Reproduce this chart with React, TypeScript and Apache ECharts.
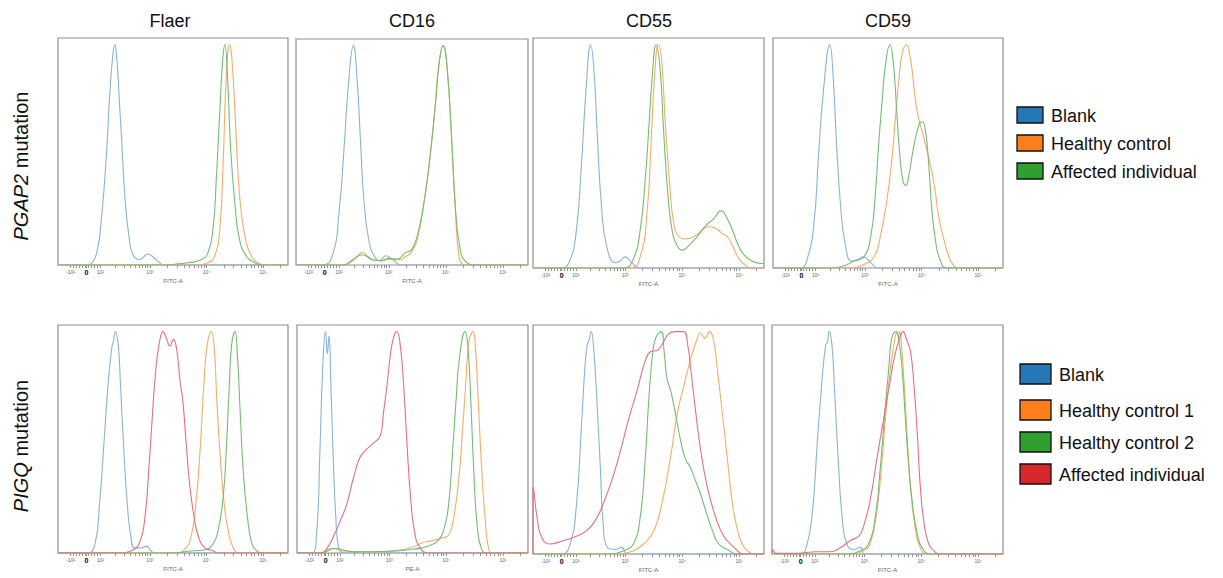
import React, { useEffect, useRef } from "react";
import * as echarts from "echarts";

// ---------- axis / labels ----------
const XMIN = 1.378;
const XMAX = 5.434;
const YMAX = 103;

const COLUMN_TITLES = ["Flaer", "CD16", "CD55", "CD59"];
const ROW_LABELS = [
  ["PGAP2", " mutation"],
  ["PIGQ", " mutation"],
];
const AXIS_NAMES = ["FITC-A", "FITC-A", "FITC-A", "FITC-A", "FITC-A", "PE-A", "FITC-A", "FITC-A"];
const TICK_POS = [1.6, 1.88, 2.13, 3, 4, 5];
const TICK_LABELS = ["-10²", "0", "10²", "10³", "10⁴", "10⁵"];
const LEGEND_ROW1 = ["Blank", "Healthy control", "Affected individual"];
const LEGEND_ROW2 = ["Blank", "Healthy control 1", "Healthy control 2", "Affected individual"];

// ---------- data: [log fluorescence position, % of max] ----------
// Row 1: PGAP2 mutation
const F1_BLANK = [[1.86,0],[1.98,1],[2.08,8],[2.14,20],[2.2,38],[2.25,58],[2.29,77],[2.34,94],[2.38,100],[2.41,95],[2.44,84],[2.47,70],[2.5,57],[2.54,38],[2.58,24],[2.63,13],[2.67,7],[2.73,3.5],[2.82,2.4],[2.9,4],[2.97,5],[3.04,4],[3.1,2.5],[3.18,0.8],[3.24,0]];
const F1_HEALTHY = [[3.79,0],[4.02,1],[4.14,4],[4.23,16],[4.29,46],[4.33,77],[4.37,95],[4.4,100],[4.44,95],[4.5,69],[4.55,43],[4.61,24],[4.7,10],[4.79,4],[4.9,1],[5.02,0]];
const F1_AFFECTED = [[3.26,0],[3.5,0.5],[3.67,1],[3.9,2.4],[4.02,5.4],[4.11,16],[4.17,39],[4.23,69],[4.28,92],[4.32,100],[4.37,84],[4.42,54],[4.5,27],[4.58,11.5],[4.7,4],[4.85,1],[4.97,0]];

const C1_BLANK = [[1.84,0],[2.01,4],[2.13,24],[2.22,54],[2.3,84],[2.38,100],[2.45,83],[2.51,54],[2.57,28],[2.66,10],[2.75,4],[2.84,2],[2.95,4.2],[3.07,2.4],[3.22,0]];
const C1_HEALTHY = [[2.2,0],[2.35,1.5],[2.45,4],[2.54,5.7],[2.63,4],[2.72,2.4],[2.87,2],[3.02,2.7],[3.19,2.4],[3.3,4],[3.4,6],[3.51,13],[3.63,31],[3.72,49],[3.81,72],[3.88,92],[3.95,100],[4.02,90],[4.1,57],[4.16,27],[4.22,5.4],[4.28,0.5],[4.35,0]];
const C1_AFFECTED = [[2.19,0],[2.37,2.4],[2.54,4.7],[2.72,2.4],[2.87,2],[3.01,3],[3.16,2.7],[3.28,5.4],[3.4,7],[3.51,14.5],[3.63,31],[3.72,49],[3.81,72],[3.88,92],[3.95,100],[4.02,90],[4.1,57],[4.16,28],[4.24,8.5],[4.34,1.7],[4.54,0]];

const D1_BLANK = [[1.88,0],[2.02,3],[2.14,17],[2.23,47],[2.31,80],[2.39,100],[2.45,88],[2.51,58],[2.58,28],[2.67,10],[2.82,2.4],[2.9,3],[3.0,5],[3.11,2.4],[3.26,0]];
const D1_HEALTHY = [[3.08,0],[3.26,5],[3.38,25],[3.45,55],[3.51,85],[3.58,100],[3.64,92],[3.7,65],[3.78,37],[3.85,20],[3.94,14],[4.05,13],[4.2,14],[4.35,17],[4.47,18.5],[4.57,18],[4.7,15.5],[4.79,14],[4.88,10],[5.0,4],[5.14,0.6],[5.2,0]];
const D1_AFFECTED = [[2.97,0],[3.14,4],[3.26,17],[3.35,40],[3.41,62],[3.47,85],[3.54,100],[3.61,89],[3.67,62],[3.74,35],[3.82,17],[3.91,10],[4.0,8],[4.11,10],[4.26,14],[4.41,19],[4.55,22],[4.68,25.6],[4.79,22],[4.88,17],[4.97,11],[5.08,6],[5.23,3],[5.38,2],[5.434,2]];

const E1_BLANK = [[1.86,0],[1.98,4],[2.1,20],[2.18,50],[2.27,80],[2.38,100],[2.44,85],[2.5,55],[2.57,28],[2.65,11],[2.77,3],[2.89,4],[2.98,5],[3.1,2.4],[3.24,0]];
const E1_HEALTHY = [[2.74,0],[2.98,1.6],[3.16,5],[3.27,14],[3.39,31],[3.48,50],[3.54,68],[3.6,85],[3.66,96.6],[3.73,100],[3.8,94],[3.86,82],[3.92,70],[4.01,61],[4.1,52],[4.18,43],[4.24,34],[4.3,23],[4.39,13],[4.48,5],[4.57,1],[4.66,0]];
const E1_AFFECTED = [[2.39,0],[2.63,1],[2.8,3],[2.98,5],[3.1,14],[3.18,32],[3.24,55],[3.3,74],[3.36,90.6],[3.44,100],[3.5,92],[3.56,70],[3.61,52],[3.67,39],[3.72,37],[3.77,41],[3.85,53],[3.95,64],[4.01,65.5],[4.07,61],[4.13,44],[4.18,26],[4.24,13],[4.32,4],[4.45,0]];

// Row 2: PIGQ mutation
const F2_BLANK = [[1.9,0],[2.03,4],[2.11,22],[2.2,54],[2.27,79],[2.33,93.5],[2.35,95],[2.39,100],[2.44,94],[2.48,76],[2.54,46],[2.6,22],[2.66,8],[2.73,2.3],[2.85,2.3],[2.94,3],[3.02,1],[3.08,0]];
const F2_HEALTHY1 = [[3.44,0],[3.61,1.5],[3.73,8],[3.82,25],[3.89,49],[3.95,76],[4.01,94],[4.08,100],[4.13,94],[4.18,68.6],[4.24,43],[4.31,22],[4.38,10],[4.47,2.3],[4.58,0]];
const F2_HEALTHY2 = [[3.38,0],[3.67,0.8],[3.97,1.5],[4.11,4],[4.2,10],[4.29,25],[4.35,49],[4.4,76],[4.44,94],[4.5,100],[4.54,90],[4.59,64],[4.65,35],[4.72,16],[4.79,5],[4.88,1],[4.97,0]];
const F2_AFFECTED = [[2.44,0],[2.67,1],[2.82,5],[2.91,16],[2.98,38],[3.04,61],[3.1,82],[3.16,94],[3.23,100],[3.29,97],[3.35,93.5],[3.41,96.5],[3.47,92],[3.53,77.7],[3.58,68.6],[3.64,49],[3.7,31],[3.78,16],[3.86,7],[3.97,2.3],[4.11,1],[4.2,0]];

const C2_BLANK = [[1.63,0],[1.72,8],[1.78,46],[1.83,84],[1.88,100],[1.91,90],[1.94,98],[1.97,79],[2.01,46],[2.06,16],[2.11,2.3],[2.22,0]];
const C2_HEALTHY1 = [[1.8,0],[1.98,2],[2.22,0.8],[2.69,0.5],[3.16,1.2],[3.4,2.6],[3.57,4.5],[3.75,5.6],[3.93,6.8],[4.04,8],[4.13,16],[4.22,34],[4.28,53.5],[4.34,76],[4.4,96],[4.47,100],[4.51,93],[4.56,68.6],[4.62,38.5],[4.68,16],[4.74,2.3],[4.81,0]];
const C2_HEALTHY2 = [[1.8,0],[2.04,2],[2.4,0.5],[2.98,0.8],[3.34,1.5],[3.57,2.3],[3.75,3.8],[3.87,6],[3.95,10],[4.04,22],[4.11,46],[4.17,68.6],[4.23,88],[4.33,100],[4.38,93],[4.43,68.6],[4.48,38.5],[4.54,13],[4.62,1.5],[4.72,0]];
const C2_AFFECTED = [[1.8,0],[1.9,2],[2.01,7],[2.13,14],[2.25,22],[2.37,34],[2.48,43],[2.57,46],[2.69,49],[2.84,53],[2.9,64],[2.96,76],[3.01,88],[3.07,97],[3.13,100],[3.19,94],[3.25,76],[3.31,49],[3.37,26],[3.44,10],[3.54,2.3],[3.69,0]];

const D2_BLANK = [[1.88,0],[2.03,4.5],[2.14,22],[2.23,58],[2.29,84],[2.33,94],[2.36,96],[2.4,100],[2.45,90],[2.5,69],[2.56,39],[2.61,13.5],[2.68,3],[2.82,2],[2.94,3],[3.03,0]];
const D2_HEALTHY1 = [[2.91,0],[3.14,1.5],[3.32,4.5],[3.5,10.5],[3.64,22.5],[3.79,43],[3.91,63],[4.03,76],[4.14,87],[4.25,96],[4.32,99.5],[4.39,97],[4.48,100],[4.55,96],[4.61,84],[4.7,64],[4.79,43],[4.88,22.5],[4.97,10.5],[5.05,4.5],[5.14,1.5],[5.26,0]];
const D2_HEALTHY2 = [[2.73,0],[2.97,1.5],[3.14,4.5],[3.26,16.5],[3.35,43],[3.41,69],[3.47,88],[3.53,97],[3.63,100],[3.68,91],[3.73,79],[3.8,73],[3.88,63],[3.97,51],[4.05,43],[4.14,39],[4.23,33],[4.32,27],[4.41,19.5],[4.53,10.5],[4.64,4.5],[4.79,2],[4.97,0]];
const D2_AFFECTED = [[1.378,0],[1.379,30],[1.39,29],[1.45,16.5],[1.53,7.5],[1.67,4.5],[1.91,6],[2.14,8],[2.32,10.5],[2.47,15],[2.61,22.5],[2.76,33],[2.91,46],[3.05,60],[3.2,73],[3.35,87],[3.44,91],[3.56,91.6],[3.64,94],[3.76,99],[3.88,100],[4.02,100],[4.1,93],[4.14,85],[4.23,65],[4.32,47],[4.44,30],[4.58,17],[4.73,8],[4.91,3],[5.08,0]];

const E2_BLANK = [[1.87,0],[1.98,3],[2.09,19.5],[2.17,49],[2.25,76],[2.32,94],[2.35,95],[2.38,100],[2.43,94],[2.48,72],[2.54,43],[2.61,16.5],[2.69,4.5],[2.81,2],[2.93,3],[3.01,0]];
const E2_HEALTHY1 = [[2.75,0],[2.98,1.5],[3.1,4.5],[3.22,19.5],[3.31,42],[3.38,64],[3.46,84],[3.53,96],[3.57,99.5],[3.6,97.5],[3.62,100],[3.66,91],[3.7,76],[3.76,49],[3.82,27],[3.9,10.5],[3.98,3],[4.1,0]];
const E2_HEALTHY2 = [[2.69,0],[2.93,1.5],[3.07,4.5],[3.19,16.5],[3.28,39],[3.35,61],[3.43,84],[3.48,97],[3.56,100],[3.6,97],[3.66,84],[3.72,61],[3.78,39],[3.86,19.5],[3.93,9],[4.01,3],[4.16,0]];
const E2_AFFECTED = [[1.378,0],[1.39,2],[1.45,0.3],[1.81,0.3],[2.16,1],[2.4,1],[2.57,2.7],[2.75,6],[2.9,8],[2.98,12],[3.1,24],[3.22,43],[3.34,61],[3.46,79],[3.54,90],[3.62,97],[3.68,100],[3.74,96.5],[3.81,91],[3.87,76],[3.93,54],[3.98,31],[4.05,13.5],[4.13,4.5],[4.22,1.5],[4.31,0]];

// ---------- styling ----------
const LINE_COLORS = { blank: "#86b4da", h1: "#f8ac66", h2: "#72be72", aff: "#e76f80" };
const LEGEND_COLORS = { blank: "#2577b5", h1: "#fd7f1c", h2: "#2fa02f", aff: "#d6282b" };
const FONT = "'Liberation Sans', Arial, Helvetica, sans-serif";

const GRIDS = [
  { left: 58, top: 38, width: 230, height: 227 },
  { left: 296, top: 39, width: 232, height: 226 },
  { left: 533, top: 38, width: 231, height: 230 },
  { left: 773, top: 38, width: 230, height: 230 },
  { left: 58, top: 325, width: 230, height: 228 },
  { left: 297, top: 325, width: 231, height: 228 },
  { left: 533, top: 325, width: 231, height: 229 },
  { left: 772, top: 325, width: 231, height: 229 },
];

const PANELS = [
  [["Blank", F1_BLANK, "blank"], ["Healthy control", F1_HEALTHY, "h1"], ["Affected individual", F1_AFFECTED, "h2"]],
  [["Blank", C1_BLANK, "blank"], ["Healthy control", C1_HEALTHY, "h1"], ["Affected individual", C1_AFFECTED, "h2"]],
  [["Blank", D1_BLANK, "blank"], ["Healthy control", D1_HEALTHY, "h1"], ["Affected individual", D1_AFFECTED, "h2"]],
  [["Blank", E1_BLANK, "blank"], ["Healthy control", E1_HEALTHY, "h1"], ["Affected individual", E1_AFFECTED, "h2"]],
  [["Blank", F2_BLANK, "blank"], ["Healthy control 1", F2_HEALTHY1, "h1"], ["Healthy control 2", F2_HEALTHY2, "h2"], ["Affected individual", F2_AFFECTED, "aff"]],
  [["Blank", C2_BLANK, "blank"], ["Healthy control 1", C2_HEALTHY1, "h1"], ["Healthy control 2", C2_HEALTHY2, "h2"], ["Affected individual", C2_AFFECTED, "aff"]],
  [["Blank", D2_BLANK, "blank"], ["Healthy control 1", D2_HEALTHY1, "h1"], ["Healthy control 2", D2_HEALTHY2, "h2"], ["Affected individual", D2_AFFECTED, "aff"]],
  [["Blank", E2_BLANK, "blank"], ["Healthy control 1", E2_HEALTHY1, "h1"], ["Healthy control 2", E2_HEALTHY2, "h2"], ["Affected individual", E2_AFFECTED, "aff"]],
];

function buildTicks() {
  const t: number[] = [...TICK_POS];
  for (let v = 1.653; v < 2.12; v += 0.053) t.push(v);
  for (let k = 2; k <= 9; k++) {
    const l = Math.log10(k);
    t.push(2.13 + 0.87 * l, 3 + l, 4 + l);
  }
  t.push(5 + Math.log10(2));
  return t.sort((a, b) => a - b);
}

function withBaseline(d: number[][]) {
  const out = d.slice();
  if (out[0][1] === 0 && out[0][0] > XMIN) out.unshift([XMIN, 0]);
  const last = out[out.length - 1];
  if (last[1] === 0 && last[0] < XMAX) out.push([XMAX, 0]);
  return out;
}

function buildOption() {
  const ticks = buildTicks();
  const grid: any[] = [];
  const xAxis: any[] = [];
  const yAxis: any[] = [];
  const series: any[] = [];

  GRIDS.forEach((g, i) => {
    grid.push({ ...g, show: true, borderColor: "#8f8f8f", borderWidth: 1.2, backgroundColor: "#fff" });
    xAxis.push({
      type: "value",
      gridIndex: i,
      min: XMIN,
      max: XMAX,
      axisLine: { show: false },
      splitLine: { show: false },
      axisTick: { show: true, customValues: ticks, length: 3, lineStyle: { color: "#7a7a7a", width: 0.8 } },
      axisLabel: {
        show: true,
        customValues: TICK_POS,
        margin: 4,
        fontSize: 5,
        color: "#666",
        fontFamily: FONT,
        formatter: (v: number) => {
          const k = TICK_POS.findIndex((p) => Math.abs(p - v) < 1e-6);
          if (k < 0) return "";
          return k === 1 ? "{z|0}" : TICK_LABELS[k];
        },
        rich: { z: { fontSize: 7, fontWeight: "bold", color: "#000", fontFamily: FONT } },
      },
      name: AXIS_NAMES[i],
      nameLocation: "middle",
      nameGap: 13,
      nameTextStyle: { fontSize: 6, color: "#666", fontFamily: FONT },
    });
    yAxis.push({ type: "value", gridIndex: i, min: 0, max: YMAX, show: false });
    PANELS[i].forEach(([name, data, key]: any) => {
      series.push({
        name,
        type: "line",
        xAxisIndex: i,
        yAxisIndex: i,
        data: withBaseline(data),
        smooth: 0.5,
        showSymbol: false,
        symbol: "none",
        silent: true,
        clip: true,
        lineStyle: { width: 1.1, color: (LINE_COLORS as any)[key] },
        itemStyle: { color: (LINE_COLORS as any)[key] },
      });
    });
  });

  const graphic: any[] = [];
  const titleX = [170, 412, 649, 888];
  COLUMN_TITLES.forEach((t, i) => {
    graphic.push({
      type: "text",
      x: titleX[i],
      y: 21,
      style: { text: t, fontSize: 18, fontFamily: FONT, fill: "#111", align: "center", verticalAlign: "middle" },
    });
  });
  const rowY = [166, 446];
  ROW_LABELS.forEach(([it, rest], i) => {
    graphic.push({
      type: "text",
      x: 21,
      y: rowY[i],
      rotation: Math.PI / 2,
      style: {
        text: `{i|${it}}{n|${rest}}`,
        align: "center",
        verticalAlign: "middle",
        fill: "#111",
        rich: {
          i: { fontStyle: "italic", fontSize: 20, fontFamily: FONT, fill: "#111" },
          n: { fontSize: 20, fontFamily: FONT, fill: "#111" },
        },
      },
    });
  });

  const l1Keys = ["blank", "h1", "h2"];
  const l1Y = [115, 143, 171];
  LEGEND_ROW1.forEach((t, i) => {
    graphic.push({
      type: "rect",
      shape: { x: 1017, y: l1Y[i] - 8, width: 26, height: 16 },
      style: { fill: (LEGEND_COLORS as any)[l1Keys[i]], stroke: "#111", lineWidth: 1.3 },
    });
    graphic.push({
      type: "text",
      x: 1051,
      y: l1Y[i] + 1,
      style: { text: t, fontSize: 18, fontFamily: FONT, fill: "#111", verticalAlign: "middle" },
    });
  });
  const l2Keys = ["blank", "h1", "h2", "aff"];
  const l2Y = [374, 410, 442, 474];
  LEGEND_ROW2.forEach((t, i) => {
    graphic.push({
      type: "rect",
      shape: { x: 1020, y: l2Y[i] - 10, width: 31, height: 20 },
      style: { fill: (LEGEND_COLORS as any)[l2Keys[i]], stroke: "#111", lineWidth: 1.3 },
    });
    graphic.push({
      type: "text",
      x: 1059,
      y: l2Y[i] + 1,
      style: { text: t, fontSize: 18, fontFamily: FONT, fill: "#111", verticalAlign: "middle" },
    });
  });

  return {
    animation: false,
    backgroundColor: "#fff",
    textStyle: { fontFamily: FONT },
    grid,
    xAxis,
    yAxis,
    series,
    graphic,
  };
}

export default function App() {
  const ref = useRef<HTMLDivElement>(null);
  useEffect(() => {
    if (!ref.current) return;
    const chart = echarts.init(ref.current, undefined, { renderer: "svg" });
    chart.setOption(buildOption() as any);
    return () => chart.dispose();
  }, []);
  return (
    <div
      ref={ref}
      style={{ position: "fixed", left: 0, top: 0, width: 1223, height: 578, background: "#fff" }}
    />
  );
}
